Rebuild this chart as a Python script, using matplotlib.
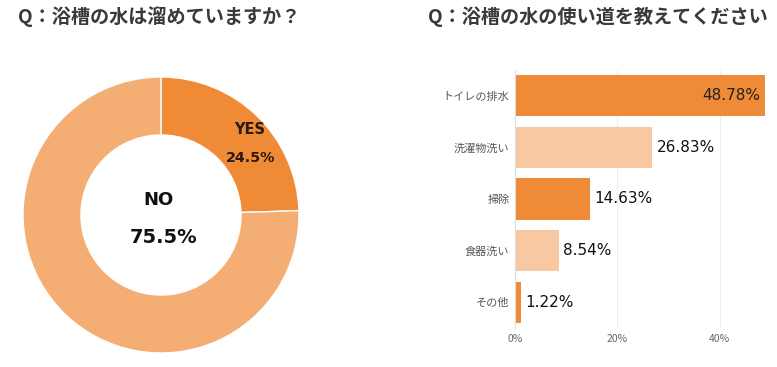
import matplotlib.pyplot as plt

plt.rcParams['font.family'] = ['Noto Sans CJK JP', 'DejaVu Sans']

# left chart: do you keep bath water?
pie_labels = ['YES', 'NO']
pie_values = [24.5, 75.5]
pie_colors = ['#EF8A36', '#F4AD72']

# right chart: what is the bath water used for?
categories = ['トイレの排水', '洗濯物洗い', '掃除', '食器洗い', 'その他']
shares = [48.78, 26.83, 14.63, 8.54, 1.22]
bar_colors = ['#EF8A36', '#F8C8A2', '#EF8A36', '#F8C8A2', '#EF8A36']
xticks = [0, 20, 40]

W, H = 777, 367
fig = plt.figure(figsize=(W / 100, H / 100), dpi=100)

fig.text(18 / W, 1 - 17 / H, 'Q：浴槽の水は溜めていますか？', fontsize=13.8,
         fontweight='bold', color='#3a3a3a', va='center', ha='left')
fig.text(428 / W, 1 - 17 / H, 'Q：浴槽の水の使い道を教えてください', fontsize=13.8,
         fontweight='bold', color='#3a3a3a', va='center', ha='left')

num_font = 'DejaVu Sans'

# donut
ax1 = fig.add_axes([23 / W, 14 / H, 276 / W, 276 / H])
ax1.pie(pie_values, colors=pie_colors, startangle=90, counterclock=False,
        radius=1, wedgeprops=dict(width=0.42, edgecolor='white', linewidth=1))
ax1.set_aspect('equal')
ax1.set_xlim(-1, 1)
ax1.set_ylim(-1, 1)
ax1.text(0.64, 0.62, pie_labels[0], ha='center', va='center', fontsize=10.5,
         fontweight='bold', color='#2a1a10', family=num_font)
ax1.text(0.65, 0.41, f'{pie_values[0]}%', ha='center', va='center', fontsize=10.3,
         fontweight='bold', color='#2a1a10', family=num_font)
ax1.text(-0.02, 0.11, pie_labels[1], ha='center', va='center', fontsize=13,
         fontweight='bold', color='#111111', family=num_font)
ax1.text(0.02, -0.16, f'{pie_values[1]}%', ha='center', va='center', fontsize=14,
         fontweight='bold', color='#111111', family=num_font)

# horizontal bars
ax2 = fig.add_axes([515 / W, 39 / H, 256 / W, 258 / H])
y = list(range(len(categories)))
ax2.barh(y, shares, color=bar_colors, height=0.8, zorder=2)
ax2.set_xlim(0, 50)
ax2.set_ylim(len(categories) - 0.5, -0.5)
ax2.set_yticks(y)
ax2.set_yticklabels(categories, fontsize=8, color='#555555')
ax2.set_xticks(xticks)
ax2.set_xticklabels([f'{t}%' for t in xticks], fontsize=7.5, color='#666666')
ax2.tick_params(length=0, pad=4)
ax2.grid(axis='x', color='#eeeeee', linewidth=0.8, zorder=0)
for s in ['top', 'right', 'bottom']:
    ax2.spines[s].set_visible(False)
ax2.spines['left'].set_color('#dddddd')
for i, v in enumerate(shares):
    if i == 0:
        ax2.text(v - 0.8, i, f'{v:.2f}%', ha='right', va='center', fontsize=11,
                 color='#222222', family=num_font)
    else:
        ax2.text(v + 0.8, i, f'{v:.2f}%', ha='left', va='center', fontsize=11,
                 color='#111111', family=num_font)

fig.savefig('out.png', dpi=100)
